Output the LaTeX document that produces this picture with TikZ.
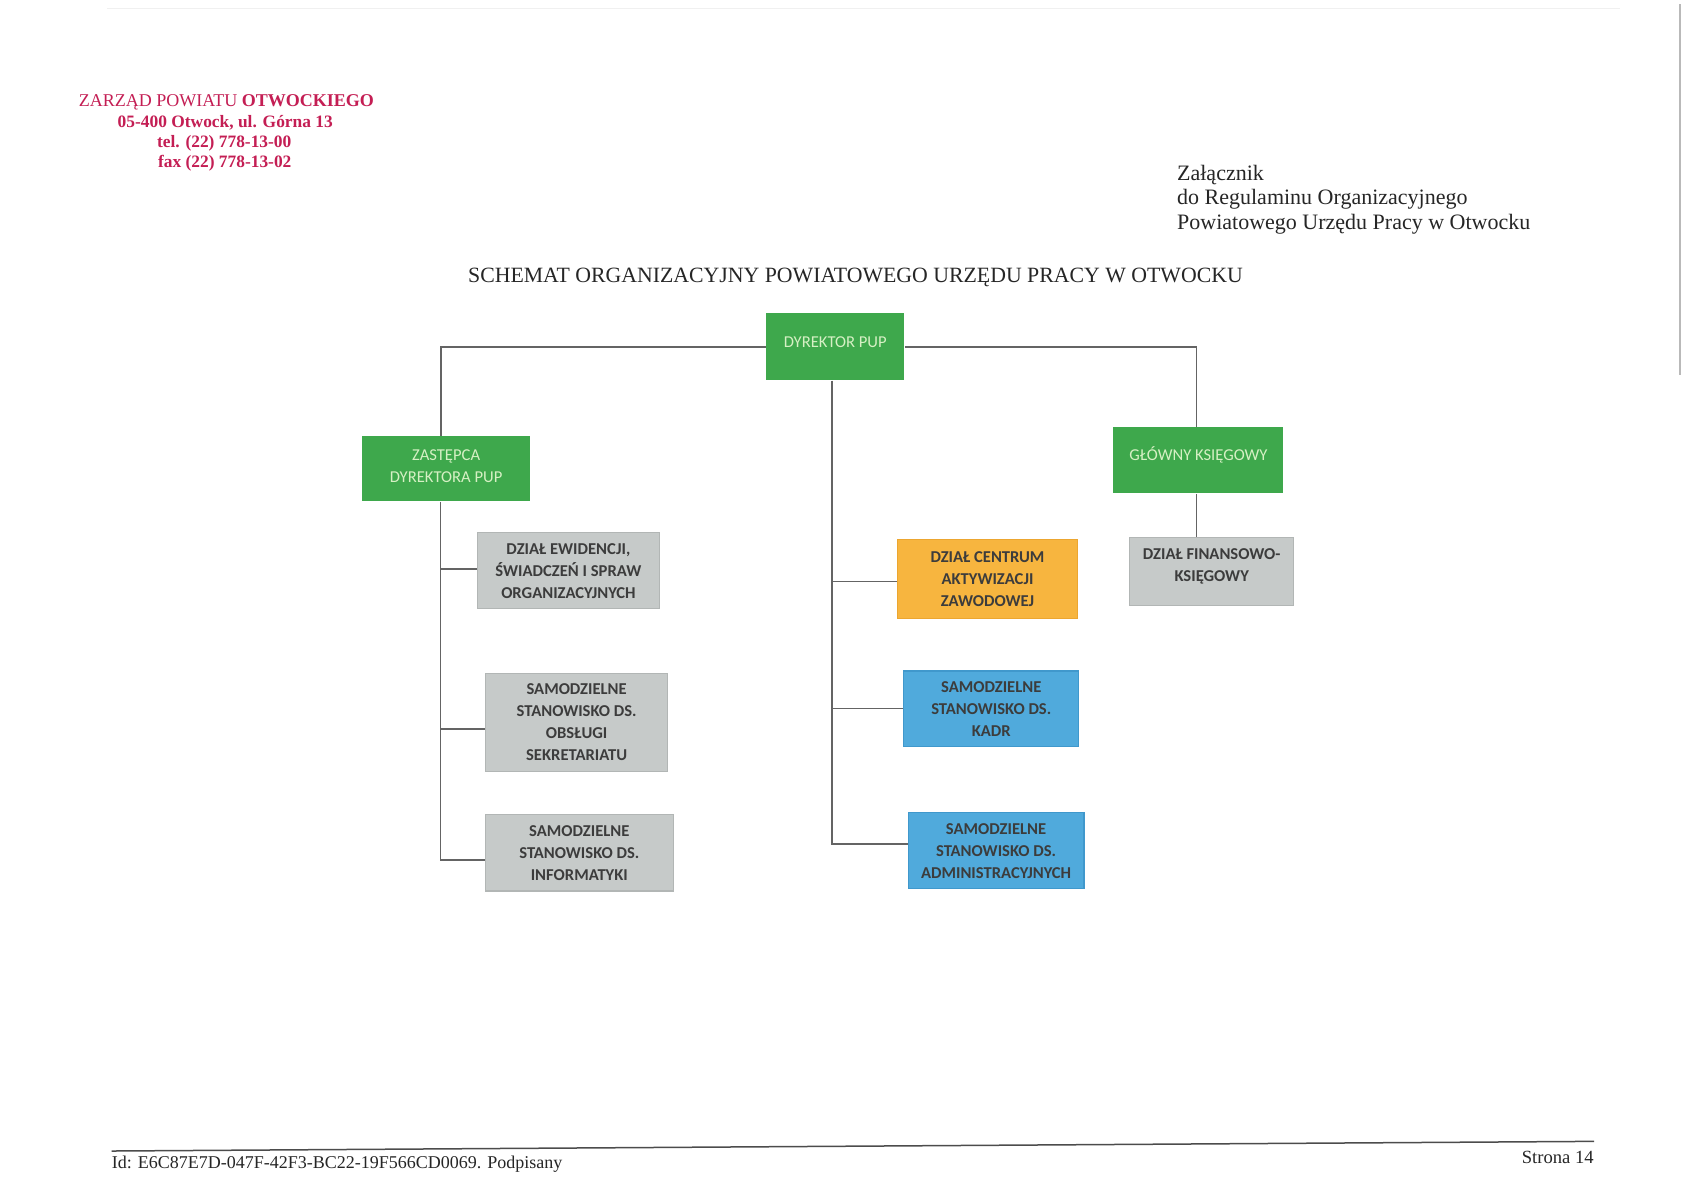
\documentclass[tikz,border=0pt]{standalone}
\usepackage{fontspec}
\setmainfont{Liberation Serif}
\newfontfamily\carl{Carlito}
\newlength\pu
\setlength\pu{0.53635bp}
\definecolor{crim}{RGB}{196,30,84}
\definecolor{pgreen}{RGB}{62,168,76}
\definecolor{pgreentxt}{RGB}{214,240,196}
\definecolor{pgray}{RGB}{198,202,201}
\definecolor{pgrayedge}{RGB}{178,182,181}
\definecolor{porange}{RGB}{247,181,63}
\definecolor{porangeedge}{RGB}{236,166,48}
\definecolor{pblue}{RGB}{80,170,220}
\definecolor{pblueedge}{RGB}{64,152,204}
\definecolor{ptext}{RGB}{60,60,60}
\definecolor{pline}{RGB}{100,100,100}
\newcommand\boxfontr{\carl\fontsize{8.3bp}{11bp}\selectfont}
\newcommand\boxfontb{\carl\bfseries\fontsize{8.3bp}{11bp}\selectfont}
\tikzset{
  orgbox/.style={rectangle, inner sep=0pt, anchor=north west, align=center},
  greenbox/.style={orgbox, fill=pgreen, text=pgreentxt, font=\boxfontr},
  graybox/.style={orgbox, fill=pgray, draw=pgrayedge, line width=0.6bp, text=ptext, font=\boxfontb},
  orangebox/.style={orgbox, fill=porange, draw=porangeedge, line width=0.6bp, text=ptext, font=\boxfontb},
  bluebox/.style={orgbox, fill=pblue, draw=pblueedge, line width=0.6bp, text=ptext, font=\boxfontb},
  conn/.style={draw=pline, line width=0.9bp, line join=miter},
  hdrline/.style={inner sep=0pt, text=crim},
  rtext/.style={inner sep=0pt, anchor=base west, font=\fontsize{11bp}{12.3bp}\selectfont, text=black!85},
  foottext/.style={inner sep=0pt, font=\fontsize{9bp}{10bp}\selectfont, text=black!85}
}
\begin{document}
\begin{tikzpicture}[x=0.53635bp, y=-0.53635bp]
\fill[white] (0,0) rectangle (1568,1109.4);
\useasboundingbox (0,0) rectangle (1568,1109.4);

% scan edges
\draw[gray!12, line width=0.6bp] (100,8) -- (1510,8);
\draw[gray!55, line width=1.3bp] (1566,4) -- (1566,350);

% header left (stamp)
\node[hdrline, anchor=base, font=\fontsize{9bp}{10.2bp}\selectfont] (h1) at (211,99.5) {ZARZĄD POWIATU \textbf{OTWOCKIEGO}};
\node[hdrline, anchor=base, font=\bfseries\fontsize{8.7bp}{10.2bp}\selectfont] (h2) at (210,118.5) {05-400 Otwock, ul. Górna 13};
\node[hdrline, anchor=base, font=\bfseries\fontsize{8.7bp}{10.2bp}\selectfont] (h3) at (209,137.5) {tel. (22) 778-13-00};
\node[hdrline, anchor=base, font=\bfseries\fontsize{8.7bp}{10.2bp}\selectfont] (h4) at (209.5,156.5) {fax (22) 778-13-02};

% header right
\node[rtext] (r1) at (1097,168) {Załącznik};
\node[rtext] (r2) at (1097,191) {do Regulaminu Organizacyjnego};
\node[rtext] (r3) at (1097,214) {Powiatowego Urzędu Pracy w Otwocku};

% title
\node[inner sep=0pt, anchor=base, font=\fontsize{10.9bp}{12bp}\selectfont, text=black!85] (title) at (797.5,263.5) {SCHEMAT ORGANIZACYJNY POWIATOWEGO URZĘDU PRACY W OTWOCKU};

% boxes
\node[greenbox, minimum width=128.9\pu, minimum height=62.5\pu, text height=5.35bp, text depth=4.56bp] (dyr) at (713.8,291.5) {DYREKTOR PUP};
\node[greenbox, minimum width=157\pu, minimum height=60.5\pu, text depth=3bp] (zast) at (337,406.5) {ZASTĘPCA\\DYREKTORA PUP};
\node[greenbox, minimum width=158.4\pu, minimum height=61.6\pu, text height=5.35bp, text depth=5.15bp] (glow) at (1037.6,398) {GŁÓWNY KSIĘGOWY};

\node[graybox, minimum width=169.4\pu, minimum height=71\pu] (ewid) at (444.6,496) {DZIAŁ EWIDENCJI,\\ŚWIADCZEŃ I SPRAW\\ORGANIZACYJNYCH};
\node[graybox, minimum width=170\pu, minimum height=92\pu] (sekr) at (452,627) {SAMODZIELNE\\STANOWISKO DS.\\OBSŁUGI\\SEKRETARIATU};
\node[graybox, minimum width=175\pu, minimum height=71\pu] (info) at (452,759) {SAMODZIELNE\\STANOWISKO DS.\\INFORMATYKI};

\node[orangebox, minimum width=168\pu, minimum height=74\pu] (cent) at (836,502) {DZIAŁ CENTRUM\\AKTYWIZACJI\\ZAWODOWEJ};
\node[bluebox, minimum width=163\pu, minimum height=70\pu] (kadr) at (842,625) {SAMODZIELNE\\STANOWISKO DS.\\KADR};
\node[bluebox, minimum width=164\pu, minimum height=71\pu] (adm) at (846,757) {SAMODZIELNE\\STANOWISKO DS.\\ADMINISTRACYJNYCH};

\node[graybox, minimum width=153\pu, minimum height=63.4\pu, text depth=6.2bp] (fin) at (1052.5,500.6) {DZIAŁ FINANSOWO-\\KSIĘGOWY};

% connectors
\coordinate (zastT) at ([xshift=-4.8\pu]zast.north);
\coordinate (zastB) at ([xshift=-5.2\pu]zast.south);
\coordinate (dyrT) at ([xshift=-3.3\pu]dyr.south);
\coordinate (ewidB) at ([yshift=2\pu]ewid.west);
\coordinate (sekrB) at ([yshift=-6\pu]sekr.west);
\coordinate (infoB) at ([yshift=-6.5\pu]info.west);
\coordinate (centB) at ([yshift=-2.6\pu]cent.west);
\coordinate (kadrB) at (kadr.west);
\coordinate (admB) at ([yshift=6.5\pu]adm.west);

\draw[conn] (dyr.west) -| (zastT);
\draw[conn] (dyr.east) -| ([xshift=-1.8\pu]glow.north);
\draw[conn] ([xshift=-1.8\pu]glow.south) -- ([xshift=-1.8\pu]glow.south |- fin.north);

\draw[conn] (zastB) |- (infoB);
\draw[conn] (zastB |- ewidB) -- (ewidB);
\draw[conn] (zastB |- sekrB) -- (sekrB);

\draw[conn] (dyrT) |- (admB);
\draw[conn] (dyrT |- centB) -- (centB);
\draw[conn] (dyrT |- kadrB) -- (kadrB);

% footer
\draw[black!70, line width=0.75bp] (104,1073) -- (1486,1064);
\node[foottext, anchor=base west] (fid) at (104,1089.5) {Id: E6C87E7D-047F-42F3-BC22-19F566CD0069. Podpisany};
\node[foottext, anchor=base east, font=\fontsize{9.3bp}{10bp}\selectfont] (fpage) at (1486,1084.5) {Strona 14};
\end{tikzpicture}
\end{document}
